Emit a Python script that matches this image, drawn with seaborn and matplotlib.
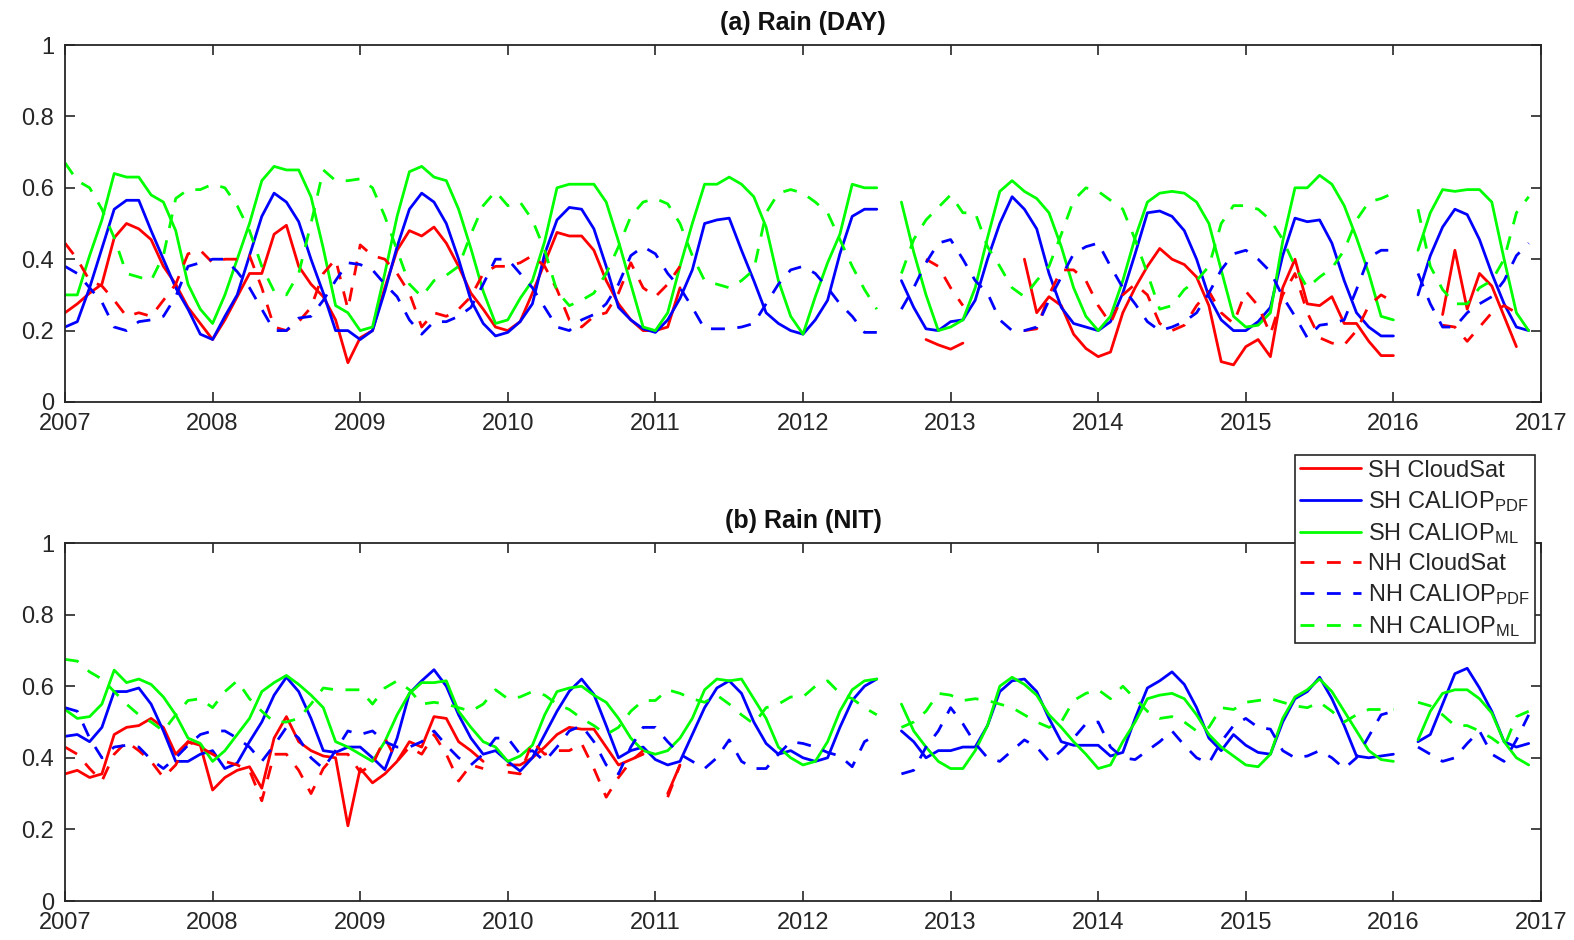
import numpy as np
import pandas as pd
import matplotlib
matplotlib.use("Agg")
import matplotlib.pyplot as plt
from matplotlib.lines import Line2D
import seaborn as sns

nan = np.nan

# Monthly time axis, Jan 2007 .. Dec 2016
months = np.arange(120)
years = [2007, 2008, 2009, 2010, 2011, 2012, 2013, 2014, 2015, 2016, 2017]
ytick_vals = [0, 0.2, 0.4, 0.6, 0.8, 1.0]
ytick_text = ["0", "0.2", "0.4", "0.6", "0.8", "1"]

# ---------------- (a) Rain (DAY) ----------------
a_sh_cs = [0.25, 0.275, 0.305, 0.33, 0.46, 0.50, 0.485, 0.455, 0.38, 0.33, 0.265, 0.22,
           0.175, 0.23, 0.295, 0.36, 0.36, 0.47, 0.495, 0.38, 0.33, 0.295, 0.23, 0.11,
           0.18, 0.20, 0.32, 0.425, 0.48, 0.465, 0.49, 0.445, 0.38, 0.305, 0.26, 0.21,
           0.20, 0.225, 0.305, 0.39, 0.475, 0.465, 0.465, 0.425, 0.34, 0.275, 0.23, 0.20,
           0.20, 0.21, 0.32, nan, nan, nan, nan, nan, nan, nan, nan, nan,
           nan, nan, nan, nan, nan, nan, nan, nan, nan, nan, 0.175, 0.16,
           0.148, 0.165, nan, nan, nan, nan, 0.40, 0.25, 0.295, 0.27, 0.19, 0.15,
           0.127, 0.14, 0.25, 0.32, 0.38, 0.43, 0.40, 0.385, 0.35, 0.27, 0.113, 0.104,
           0.155, 0.175, 0.127, 0.32, 0.40, 0.275, 0.27, 0.295, 0.22, 0.22, 0.17, 0.13,
           0.13, nan, nan, nan, 0.245, 0.425, 0.26, 0.36, 0.325, 0.24, 0.155, nan]
a_sh_pdf = [0.21, 0.225, 0.32, 0.43, 0.54, 0.565, 0.565, 0.48, 0.40, 0.32, 0.26, 0.19,
            0.175, 0.24, 0.30, 0.41, 0.52, 0.585, 0.56, 0.505, 0.40, 0.305, 0.20, 0.20,
            0.175, 0.20, 0.31, 0.435, 0.54, 0.585, 0.56, 0.50, 0.40, 0.285, 0.22, 0.185,
            0.195, 0.225, 0.275, 0.415, 0.51, 0.545, 0.54, 0.485, 0.38, 0.265, 0.23, 0.205,
            0.195, 0.23, 0.29, 0.37, 0.50, 0.51, 0.515, 0.425, 0.34, 0.25, 0.22, 0.20,
            0.19, 0.23, 0.285, 0.415, 0.52, 0.54, 0.54, nan, 0.34, 0.265, 0.205, 0.20,
            0.225, 0.23, 0.285, 0.40, 0.50, 0.575, 0.54, 0.485, 0.36, 0.265, 0.22, 0.21,
            0.20, 0.225, 0.305, 0.415, 0.53, 0.535, 0.52, 0.48, 0.40, 0.295, 0.23, 0.20,
            0.20, 0.225, 0.265, 0.41, 0.515, 0.505, 0.51, 0.445, 0.34, 0.25, 0.21, 0.185,
            0.185, nan, 0.30, 0.41, 0.49, 0.54, 0.525, 0.455, 0.36, 0.275, 0.21, 0.20]
a_sh_ml = [0.30, 0.30, 0.41, 0.51, 0.64, 0.63, 0.63, 0.58, 0.56, 0.48, 0.33, 0.26,
           0.22, 0.30, 0.40, 0.50, 0.62, 0.66, 0.65, 0.65, 0.575, 0.43, 0.27, 0.25,
           0.20, 0.21, 0.36, 0.52, 0.645, 0.66, 0.63, 0.62, 0.54, 0.43, 0.31, 0.22,
           0.23, 0.29, 0.34, 0.45, 0.60, 0.61, 0.61, 0.61, 0.56, 0.45, 0.33, 0.21,
           0.20, 0.25, 0.38, 0.50, 0.61, 0.61, 0.63, 0.61, 0.575, 0.49, 0.34, 0.24,
           0.19, 0.295, 0.39, 0.47, 0.61, 0.60, 0.60, nan, 0.56, 0.42, 0.30, 0.20,
           0.21, 0.23, 0.32, 0.46, 0.59, 0.62, 0.59, 0.57, 0.53, 0.435, 0.32, 0.24,
           0.20, 0.24, 0.34, 0.46, 0.56, 0.585, 0.59, 0.585, 0.56, 0.50, 0.37, 0.24,
           0.21, 0.215, 0.25, 0.45, 0.60, 0.60, 0.635, 0.61, 0.55, 0.46, 0.36, 0.24,
           0.23, nan, 0.425, 0.53, 0.595, 0.59, 0.595, 0.595, 0.56, 0.40, 0.25, 0.20]
a_nh_cs = [0.445, 0.40, 0.34, 0.325, 0.285, 0.24, 0.25, 0.24, 0.285, 0.33, 0.415, 0.425,
           0.39, 0.40, 0.40, 0.41, 0.32, 0.21, 0.20, 0.225, 0.265, 0.36, 0.40, 0.26,
           0.44, 0.41, 0.40, 0.36, 0.305, 0.21, 0.25, 0.24, 0.26, 0.295, 0.36, 0.38,
           0.38, 0.39, 0.41, 0.38, 0.315, 0.23, 0.21, 0.24, 0.25, 0.305, 0.39, 0.32,
           0.295, 0.33, 0.38, nan, nan, nan, nan, nan, nan, nan, nan, nan,
           nan, nan, nan, nan, nan, nan, nan, nan, nan, nan, 0.40, 0.38,
           0.32, 0.27, nan, nan, nan, nan, 0.20, 0.205, 0.30, 0.37, 0.37, 0.34,
           0.27, 0.22, 0.30, 0.33, 0.30, 0.22, 0.20, 0.215, 0.27, 0.31, 0.25, 0.22,
           0.31, 0.27, 0.19, 0.30, 0.36, 0.25, 0.18, 0.165, 0.16, 0.20, 0.27, 0.30,
           0.28, nan, nan, nan, 0.215, 0.21, 0.17, 0.21, 0.25, 0.27, 0.25, nan]
a_nh_pdf = [0.38, 0.36, 0.32, 0.28, 0.21, 0.20, 0.225, 0.23, 0.24, 0.295, 0.38, 0.39,
            0.40, 0.40, 0.365, 0.32, 0.26, 0.20, 0.20, 0.235, 0.24, 0.285, 0.34, 0.39,
            0.385, 0.37, 0.33, 0.295, 0.23, 0.19, 0.225, 0.225, 0.24, 0.265, 0.33, 0.40,
            0.40, 0.36, 0.32, 0.265, 0.21, 0.20, 0.23, 0.245, 0.275, 0.33, 0.41, 0.435,
            0.415, 0.36, 0.32, 0.265, 0.205, 0.205, 0.205, 0.21, 0.22, 0.275, 0.33, 0.37,
            0.38, 0.36, 0.32, 0.275, 0.24, 0.195, 0.195, nan, 0.26, 0.32, 0.39, 0.445,
            0.455, 0.40, 0.34, 0.305, 0.23, 0.20, 0.20, 0.21, 0.285, 0.35, 0.415, 0.435,
            0.445, 0.38, 0.32, 0.275, 0.225, 0.20, 0.21, 0.225, 0.25, 0.305, 0.37, 0.415,
            0.425, 0.40, 0.365, 0.295, 0.24, 0.18, 0.215, 0.22, 0.23, 0.315, 0.405, 0.425,
            0.425, nan, 0.36, 0.275, 0.21, 0.21, 0.25, 0.275, 0.295, 0.34, 0.41, 0.445]
a_nh_ml = [0.67, 0.62, 0.60, 0.54, 0.46, 0.36, 0.35, 0.34, 0.41, 0.57, 0.595, 0.595,
           0.61, 0.60, 0.55, 0.48, 0.38, 0.31, 0.30, 0.36, 0.50, 0.65, 0.62, 0.62,
           0.625, 0.60, 0.52, 0.425, 0.33, 0.295, 0.34, 0.355, 0.38, 0.47, 0.55, 0.59,
           0.55, 0.56, 0.51, 0.425, 0.31, 0.27, 0.285, 0.305, 0.36, 0.435, 0.52, 0.56,
           0.57, 0.555, 0.50, 0.41, 0.34, 0.33, 0.32, 0.34, 0.37, 0.53, 0.585, 0.595,
           0.585, 0.56, 0.53, 0.455, 0.38, 0.315, 0.26, nan, 0.36, 0.455, 0.51, 0.545,
           0.58, 0.53, 0.53, 0.435, 0.38, 0.32, 0.295, 0.34, 0.38, 0.47, 0.565, 0.60,
           0.59, 0.565, 0.54, 0.455, 0.36, 0.26, 0.27, 0.315, 0.34, 0.38, 0.50, 0.55,
           0.55, 0.54, 0.51, 0.455, 0.38, 0.32, 0.35, 0.375, 0.425, 0.51, 0.56, 0.57,
           0.585, nan, 0.54, 0.38, 0.315, 0.275, 0.275, 0.32, 0.34, 0.40, 0.53, 0.575]

# ---------------- (b) Rain (NIT) ----------------
b_sh_cs = [0.355, 0.365, 0.345, 0.355, 0.465, 0.485, 0.49, 0.51, 0.485, 0.41, 0.445, 0.435,
           0.31, 0.345, 0.365, 0.375, 0.315, 0.455, 0.515, 0.445, 0.42, 0.405, 0.40, 0.21,
           0.37, 0.33, 0.355, 0.39, 0.445, 0.43, 0.515, 0.51, 0.445, 0.42, 0.39, nan,
           0.38, 0.38, 0.40, 0.43, 0.465, 0.485, 0.48, 0.48, 0.43, 0.38, 0.395, 0.41,
           nan, 0.30, 0.38] + [nan] * 69
b_sh_pdf = [0.46, 0.465, 0.445, 0.485, 0.585, 0.585, 0.595, 0.55, 0.475, 0.39, 0.39, 0.41,
            0.42, 0.37, 0.385, 0.445, 0.50, 0.575, 0.625, 0.585, 0.51, 0.42, 0.415, 0.43,
            0.43, 0.40, 0.367, 0.455, 0.58, 0.615, 0.646, 0.60, 0.52, 0.455, 0.41, 0.42,
            0.39, 0.363, 0.40, 0.465, 0.53, 0.586, 0.62, 0.577, 0.49, 0.40, 0.42, 0.43,
            0.395, 0.38, 0.39, 0.465, 0.54, 0.595, 0.615, 0.58, 0.50, 0.44, 0.41, 0.42,
            0.40, 0.39, 0.40, 0.485, 0.56, 0.60, 0.62, nan, 0.475, 0.445, 0.40, 0.42,
            0.42, 0.43, 0.43, 0.49, 0.585, 0.615, 0.62, 0.585, 0.51, 0.445, 0.435, 0.435,
            0.435, 0.405, 0.415, 0.51, 0.595, 0.615, 0.64, 0.605, 0.54, 0.455, 0.42, 0.465,
            0.435, 0.415, 0.41, 0.50, 0.565, 0.585, 0.625, 0.565, 0.49, 0.405, 0.40, 0.405,
            0.41, nan, 0.445, 0.465, 0.55, 0.635, 0.65, 0.595, 0.53, 0.445, 0.43, 0.44]
b_sh_ml = [0.535, 0.51, 0.515, 0.55, 0.645, 0.61, 0.62, 0.605, 0.57, 0.52, 0.455, 0.44,
           0.39, 0.42, 0.465, 0.51, 0.585, 0.61, 0.63, 0.605, 0.575, 0.54, 0.445, 0.43,
           0.41, 0.39, 0.445, 0.52, 0.58, 0.61, 0.61, 0.615, 0.53, 0.485, 0.445, 0.43,
           0.39, 0.405, 0.435, 0.52, 0.585, 0.595, 0.60, 0.575, 0.555, 0.51, 0.455, 0.42,
           0.41, 0.42, 0.455, 0.51, 0.59, 0.62, 0.615, 0.62, 0.565, 0.51, 0.43, 0.40,
           0.38, 0.39, 0.445, 0.53, 0.59, 0.615, 0.62, nan, 0.55, 0.475, 0.43, 0.39,
           0.37, 0.37, 0.42, 0.49, 0.60, 0.625, 0.605, 0.575, 0.52, 0.485, 0.445, 0.41,
           0.37, 0.38, 0.445, 0.50, 0.565, 0.575, 0.58, 0.565, 0.52, 0.465, 0.43, 0.405,
           0.38, 0.375, 0.41, 0.51, 0.57, 0.59, 0.62, 0.585, 0.53, 0.475, 0.42, 0.395,
           0.39, nan, 0.45, 0.53, 0.58, 0.59, 0.59, 0.565, 0.525, 0.445, 0.40, 0.38]
b_nh_cs = [0.43, 0.41, 0.37, 0.335, 0.41, 0.445, 0.42, 0.39, 0.345, 0.38, 0.445, 0.43,
           0.41, 0.39, 0.38, 0.365, 0.28, 0.41, 0.41, 0.365, 0.30, 0.37, 0.41, 0.41,
           0.36, 0.38, 0.455, 0.39, 0.43, 0.41, 0.465, 0.41, 0.335, 0.38, 0.37, nan,
           0.36, 0.355, 0.445, 0.41, 0.42, 0.42, 0.44, 0.37, 0.29, 0.345, 0.39, 0.42,
           nan, 0.29, 0.38] + [nan] * 69
b_nh_pdf = [0.54, 0.53, 0.455, 0.40, 0.43, 0.435, 0.43, 0.395, 0.37, 0.40, 0.435, 0.465,
            0.475, 0.475, 0.455, 0.43, 0.39, 0.435, 0.485, 0.455, 0.40, 0.37, 0.42, 0.475,
            0.465, 0.475, 0.445, 0.43, 0.43, 0.445, 0.475, 0.435, 0.40, 0.38, 0.41, 0.455,
            0.455, 0.41, 0.42, 0.39, 0.43, 0.475, 0.49, 0.445, 0.38, 0.355, 0.43, 0.485,
            0.485, 0.445, 0.41, 0.39, 0.37, 0.40, 0.45, 0.39, 0.37, 0.37, 0.41, 0.445,
            0.44, 0.43, 0.415, 0.405, 0.375, 0.445, 0.465, nan, 0.355, 0.365, 0.43, 0.475,
            0.54, 0.495, 0.44, 0.40, 0.39, 0.42, 0.45, 0.43, 0.39, 0.42, 0.455, 0.495,
            0.50, 0.43, 0.40, 0.395, 0.42, 0.445, 0.475, 0.435, 0.40, 0.385, 0.445, 0.49,
            0.51, 0.485, 0.48, 0.42, 0.40, 0.405, 0.42, 0.40, 0.37, 0.40, 0.46, 0.52,
            0.53, nan, 0.43, 0.41, 0.39, 0.40, 0.44, 0.475, 0.41, 0.39, 0.45, 0.52]
b_nh_ml = [0.675, 0.67, 0.64, 0.62, 0.585, 0.55, 0.52, 0.50, 0.475, 0.52, 0.56, 0.565,
           0.54, 0.585, 0.615, 0.565, 0.53, 0.50, 0.50, 0.51, 0.55, 0.595, 0.59, 0.59,
           0.59, 0.55, 0.595, 0.615, 0.59, 0.55, 0.555, 0.55, 0.54, 0.53, 0.55, 0.59,
           0.565, 0.57, 0.585, 0.575, 0.55, 0.535, 0.51, 0.49, 0.465, 0.485, 0.53, 0.56,
           0.56, 0.59, 0.58, 0.565, 0.555, 0.575, 0.55, 0.52, 0.495, 0.54, 0.55, 0.57,
           0.57, 0.60, 0.615, 0.58, 0.565, 0.54, 0.52, nan, 0.485, 0.50, 0.53, 0.58,
           0.575, 0.56, 0.565, 0.56, 0.55, 0.54, 0.52, 0.50, 0.485, 0.50, 0.56, 0.58,
           0.59, 0.565, 0.60, 0.565, 0.53, 0.51, 0.515, 0.50, 0.475, 0.485, 0.54, 0.535,
           0.555, 0.56, 0.565, 0.555, 0.545, 0.54, 0.555, 0.53, 0.50, 0.52, 0.535, 0.535,
           0.535, nan, 0.555, 0.545, 0.52, 0.49, 0.49, 0.475, 0.455, 0.43, 0.515, 0.53]

labels = ["SH CloudSat", r"SH CALIOP$_\mathrm{PDF}$", r"SH CALIOP$_\mathrm{ML}$",
          "NH CloudSat", r"NH CALIOP$_\mathrm{PDF}$", r"NH CALIOP$_\mathrm{ML}$"]
colors = ["#ff0000", "#0000ff", "#00ff00"] * 2
dash = (0, (5, 4.5))
styles = ["-", "-", "-", dash, dash, dash]

panels = [
    ("(a) Rain (DAY)", [a_sh_cs, a_sh_pdf, a_sh_ml, a_nh_cs, a_nh_pdf, a_nh_ml]),
    ("(b) Rain (NIT)", [b_sh_cs, b_sh_pdf, b_sh_ml, b_nh_cs, b_nh_pdf, b_nh_ml]),
]

sns.set_theme(style="ticks")
plt.rcParams["font.family"] = ["Liberation Sans", "DejaVu Sans"]
plt.rcParams["mathtext.fontset"] = "custom"
plt.rcParams["mathtext.rm"] = "Liberation Sans"
plt.rcParams["mathtext.it"] = "Liberation Sans:italic"
plt.rcParams["mathtext.bf"] = "Liberation Sans:bold"

W, H = 1574, 940
fig = plt.figure(figsize=(W / 100, H / 100), dpi=100)
left, right = 65 / W, 1541 / W
boxes = [(45, 402), (543, 901)]

t = 2007 + months / 12.0
for (title, series), (top_px, bot_px) in zip(panels, boxes):
    ax = fig.add_axes([left, 1 - bot_px / H, right - left, (bot_px - top_px) / H])
    for vals, col, ls in zip(series, colors, styles):
        v = np.asarray(vals, dtype=float)
        seg = np.cumsum(np.isnan(v))
        ok = ~np.isnan(v)
        df = pd.DataFrame({"t": t[ok], "v": v[ok], "seg": seg[ok]})
        sns.lineplot(data=df, x="t", y="v", units="seg", estimator=None,
                     color=col, linestyle=ls, linewidth=2.0, ax=ax, legend=False)
    ax.set_xlim(2007, 2017)
    ax.set_ylim(0, 1)
    ax.set_xticks(years)
    ax.set_xticklabels([str(y) for y in years])
    ax.set_yticks(ytick_vals)
    ax.set_yticklabels(ytick_text)
    ax.set_xlabel("")
    ax.set_ylabel("")
    ax.tick_params(direction="in", length=7, width=1.2, top=True, right=True,
                   labelsize=17, colors="#262626")
    ax.tick_params(axis="x", pad=8)
    ax.tick_params(axis="y", pad=8)
    for sp in ax.spines.values():
        sp.set_visible(True)
        sp.set_linewidth(1.3)
        sp.set_color("#262626")
    ax.set_title(title, fontsize=18, fontweight="bold", pad=11, color="#111111")

handles = [Line2D([0], [0], color=c, linestyle=s, linewidth=2.0)
           for c, s in zip(colors, styles)]
leg = fig.legend(handles, labels, loc="upper right",
                 bbox_to_anchor=(1535 / W, 1 - 455 / H), fontsize=17,
                 frameon=True, fancybox=False, framealpha=1, edgecolor="#262626",
                 handlelength=2.6, handletextpad=0.3, borderpad=0.2,
                 labelspacing=0.3, borderaxespad=0)
leg.get_frame().set_linewidth(1.2)

fig.savefig("out.png", dpi=100)
